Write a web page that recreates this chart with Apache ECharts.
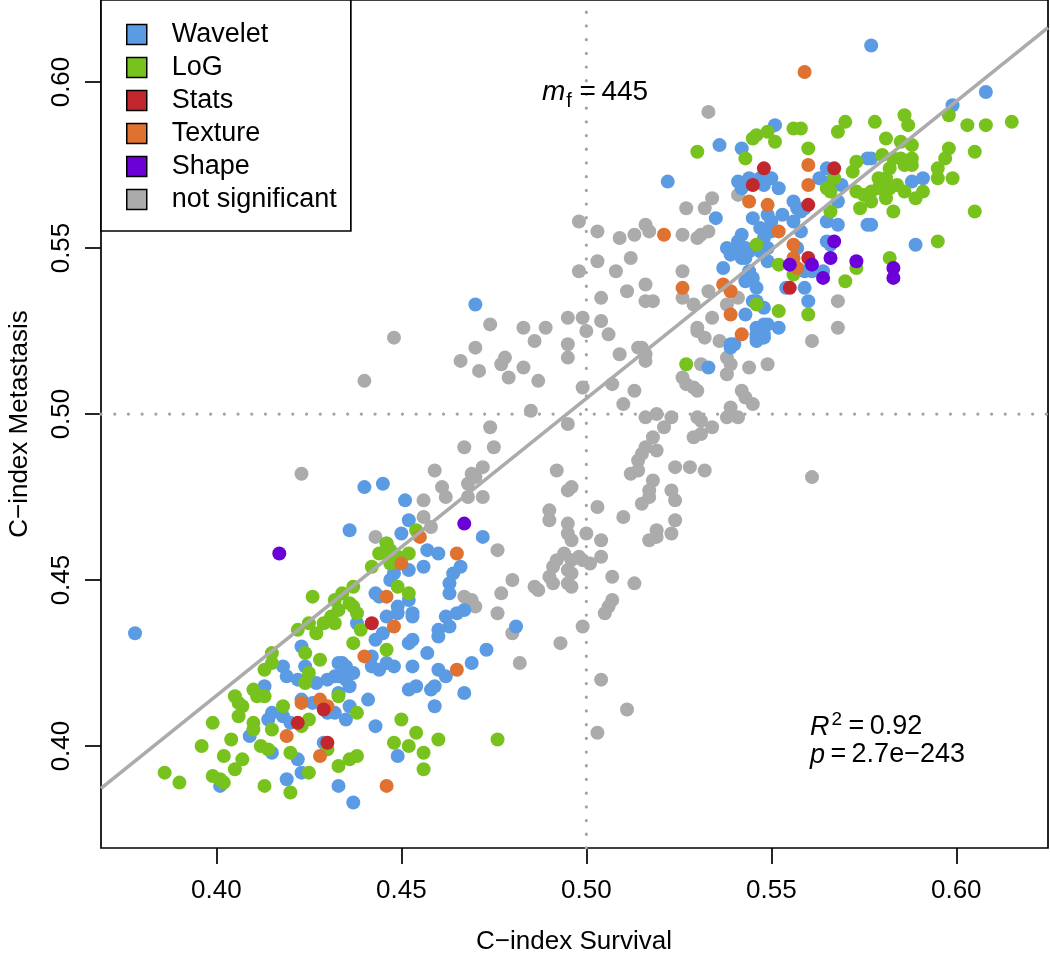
<!DOCTYPE html>
<html><head><meta charset="utf-8">
<script src="https://cdn.jsdelivr.net/npm/echarts@6/dist/echarts.min.js"></script>
<style>html,body{margin:0;padding:0;background:#fff}#c{width:1050px;height:956px}</style>
</head><body><div id="c"></div>
<script>
const FONT = '"Liberation Sans", Arial, Helvetica, sans-serif';
const tickValues = [0.40, 0.45, 0.50, 0.55, 0.60];
const xRange = [0.3688, 0.6248];
const yRange = [0.3693, 0.6247];
const refX = [0.5];
const refY = [0.5];
const fitIntercept = 0.0572;
const fitSlope = 0.895;
const categories = ['Wavelet', 'LoG', 'Stats', 'Texture', 'Shape', 'not significant'];
const catColors = ['#5B9BE3', '#78C21E', '#C1272D', '#DF7230', '#6B00D7', '#ABABAB'];

const waveletPts = [
[0.378,0.434],[0.423,0.430],[0.418,0.424],[0.424,0.424],[0.419,0.421],[0.422,0.420],[0.427,0.419],[0.430,0.420],[0.432,0.421],[0.433,0.425],[0.413,0.418],[0.423,0.414],[0.426,0.413],[0.432,0.410],[0.430,0.410],[0.415,0.410],[0.414,0.408],[0.418,0.409],[0.420,0.407],[0.409,0.403],[0.415,0.398],[0.429,0.401],[0.422,0.396],[0.401,0.388],[0.419,0.390],[0.423,0.392],[0.433,0.388],
[0.440,0.478],[0.445,0.479],[0.451,0.474],[0.452,0.468],[0.436,0.465],[0.450,0.464],[0.472,0.463],[0.446,0.461],[0.457,0.459],[0.460,0.458],[0.456,0.454],[0.466,0.454],[0.464,0.452],[0.463,0.449],[0.463,0.446],[0.452,0.453],[0.448,0.452],[0.447,0.450],[0.443,0.446],[0.444,0.445],[0.452,0.444],[0.467,0.441],[0.465,0.440],[0.462,0.439],[0.463,0.436],[0.449,0.442],[0.449,0.440],[0.453,0.440],[0.453,0.439],[0.438,0.437],[0.446,0.439],[0.445,0.434],[0.481,0.436],[0.443,0.432],[0.452,0.431],[0.453,0.432],[0.460,0.435],[0.460,0.433],[0.457,0.428],[0.473,0.429],[0.442,0.427],[0.442,0.424],[0.444,0.423],[0.446,0.425],[0.448,0.424],[0.434,0.425],[0.435,0.424],[0.453,0.424],[0.469,0.425],[0.460,0.423],[0.462,0.421],
[0.433,0.421],[0.435,0.420],[0.437,0.422],[0.436,0.418],[0.452,0.417],[0.454,0.418],[0.458,0.417],[0.459,0.418],[0.467,0.416],[0.433,0.416],[0.441,0.414],[0.435,0.408],[0.436,0.412],[0.459,0.412],[0.443,0.406],[0.449,0.397],[0.437,0.383],
[0.470,0.533],[0.539,0.521],[0.546,0.524],[0.548,0.523],[0.546,0.522],[0.533,0.514],
[0.536,0.581],[0.522,0.570],[0.542,0.580],[0.551,0.587],[0.576,0.577],[0.541,0.570],[0.542,0.568],[0.544,0.571],[0.547,0.571],[0.548,0.569],[0.550,0.571],[0.552,0.568],[0.565,0.574],[0.563,0.571],[0.566,0.570],[0.569,0.569],[0.556,0.564],[0.557,0.562],[0.558,0.561],[0.559,0.562],[0.568,0.564],[0.535,0.559],[0.545,0.559],[0.549,0.560],[0.553,0.560],[0.565,0.558],[0.568,0.557],[0.576,0.557],[0.556,0.558],[0.558,0.555],[0.547,0.556],[0.550,0.558],[0.550,0.555],[0.548,0.553],[0.542,0.554],[0.541,0.552],[0.543,0.550],[0.538,0.550],[0.539,0.548],[0.541,0.549],[0.542,0.547],[0.543,0.547],[0.544,0.549],[0.547,0.549],[0.549,0.546],[0.549,0.550],[0.537,0.544],[0.557,0.550],[0.565,0.552],[0.566,0.551],[0.559,0.543],[0.561,0.543],[0.564,0.543],[0.544,0.543],[0.545,0.541],[0.543,0.540],[0.546,0.538],[0.554,0.538],[0.559,0.538],[0.545,0.534],[0.546,0.534],[0.543,0.530],[0.548,0.532],[0.560,0.534],[0.546,0.526],[0.548,0.527],[0.549,0.527],[0.546,0.523],[0.548,0.524],[0.552,0.526],[0.540,0.521],[0.539,0.520],
[0.577,0.611],[0.608,0.597],[0.599,0.593],[0.577,0.577],[0.588,0.570],[0.591,0.571],[0.577,0.557],[0.589,0.551]
];
const logPts = [
[0.426,0.445],[0.432,0.444],[0.432,0.437],[0.422,0.435],[0.425,0.437],[0.427,0.434],[0.429,0.437],[0.424,0.428],[0.415,0.428],[0.415,0.425],[0.413,0.423],[0.428,0.426],[0.425,0.422],[0.424,0.419],[0.410,0.417],[0.411,0.415],[0.405,0.415],[0.406,0.413],[0.407,0.412],[0.413,0.415],[0.406,0.409],[0.418,0.412],[0.433,0.415],[0.425,0.408],[0.423,0.406],[0.410,0.407],[0.410,0.405],[0.399,0.407],[0.415,0.405],[0.404,0.402],[0.396,0.400],[0.412,0.400],[0.414,0.399],[0.430,0.399],[0.420,0.398],[0.402,0.397],[0.407,0.396],[0.405,0.393],[0.433,0.394],[0.386,0.392],[0.390,0.389],[0.399,0.391],[0.401,0.390],[0.402,0.389],[0.413,0.388],[0.425,0.392],[0.420,0.386],
[0.454,0.465],[0.446,0.461],[0.444,0.458],[0.446,0.458],[0.447,0.459],[0.447,0.455],[0.449,0.457],[0.452,0.458],[0.442,0.454],[0.449,0.448],[0.452,0.446],[0.437,0.448],[0.434,0.446],[0.436,0.443],[0.437,0.442],[0.438,0.440],[0.433,0.441],[0.431,0.439],[0.439,0.435],[0.437,0.431],[0.446,0.429],[0.438,0.410],[0.450,0.408],[0.454,0.404],[0.448,0.401],[0.452,0.400],[0.460,0.402],[0.476,0.402],[0.456,0.398],[0.456,0.393],[0.436,0.396],[0.438,0.397],
[0.527,0.515],
[0.530,0.579],[0.543,0.577],[0.545,0.583],[0.546,0.584],[0.549,0.585],[0.551,0.582],[0.556,0.586],[0.558,0.586],[0.560,0.580],[0.568,0.585],[0.570,0.588],[0.573,0.576],[0.567,0.571],[0.565,0.568],[0.566,0.567],[0.573,0.567],[0.575,0.566],[0.574,0.562],[0.566,0.561],[0.546,0.551],[0.552,0.545],[0.573,0.544],[0.556,0.542],[0.570,0.540],[0.546,0.533],[0.552,0.531],[0.560,0.530],
[0.598,0.590],[0.578,0.588],[0.586,0.590],[0.587,0.587],[0.603,0.587],[0.608,0.587],[0.615,0.588],[0.581,0.583],[0.585,0.582],[0.588,0.581],[0.598,0.580],[0.597,0.577],[0.595,0.574],[0.605,0.579],[0.572,0.573],[0.580,0.578],[0.583,0.577],[0.585,0.577],[0.588,0.577],[0.588,0.575],[0.586,0.575],[0.582,0.574],[0.579,0.571],[0.581,0.571],[0.579,0.568],[0.580,0.568],[0.582,0.568],[0.584,0.569],[0.577,0.567],[0.577,0.564],[0.581,0.565],[0.583,0.561],[0.586,0.567],[0.595,0.571],[0.599,0.571],[0.591,0.567],[0.589,0.565],[0.605,0.561],[0.595,0.552],[0.582,0.547]
];
const statsPts = [
[0.429,0.411],[0.422,0.407],[0.430,0.401],[0.442,0.437],[0.548,0.574],[0.545,0.569],[0.567,0.574],[0.560,0.563],[0.560,0.547],[0.555,0.538]
];
const texturePts = [
[0.423,0.413],[0.428,0.414],[0.430,0.412],[0.419,0.403],[0.428,0.397],[0.455,0.463],[0.465,0.458],[0.450,0.455],[0.446,0.445],[0.448,0.436],[0.440,0.427],[0.465,0.423],[0.446,0.388],[0.542,0.524],[0.560,0.575],[0.560,0.569],[0.544,0.564],[0.549,0.563],[0.521,0.554],[0.552,0.555],[0.556,0.551],[0.556,0.547],[0.557,0.544],[0.526,0.538],[0.537,0.539],[0.539,0.537],[0.539,0.530],[0.559,0.603]
];
const shapePts = [
[0.417,0.458],[0.467,0.467],[0.567,0.552],[0.566,0.547],[0.555,0.545],[0.561,0.545],[0.573,0.546],[0.564,0.541],[0.583,0.544],[0.583,0.541]
];
const nsPts = [
[0.423,0.482],
[0.459,0.483],[0.469,0.482],[0.470,0.481],[0.468,0.479],[0.492,0.483],[0.495,0.477],[0.461,0.478],[0.462,0.475],[0.468,0.475],[0.472,0.475],[0.456,0.474],[0.456,0.469],[0.458,0.466],[0.490,0.471],[0.490,0.468],[0.495,0.467],[0.495,0.464],[0.443,0.463],[0.476,0.459],[0.494,0.458],[0.492,0.456],[0.491,0.454],[0.490,0.451],[0.491,0.449],[0.495,0.453],[0.495,0.449],[0.480,0.450],[0.486,0.448],[0.487,0.447],[0.477,0.446],[0.467,0.445],[0.469,0.444],[0.470,0.442],[0.476,0.440],[0.480,0.434],[0.493,0.431],[0.482,0.425],
[0.474,0.527],[0.448,0.523],[0.483,0.526],[0.489,0.526],[0.495,0.529],[0.486,0.522],[0.495,0.521],[0.495,0.517],[0.470,0.520],[0.466,0.516],[0.471,0.513],[0.478,0.517],[0.477,0.515],[0.479,0.511],[0.483,0.514],[0.487,0.510],[0.440,0.510],[0.485,0.501],[0.474,0.496],[0.467,0.490],[0.475,0.490],[0.495,0.497],[0.472,0.484],
[0.500,0.525],[0.506,0.524],[0.509,0.518],[0.514,0.520],[0.516,0.518],[0.516,0.516],[0.499,0.508],[0.507,0.509],[0.513,0.507],[0.510,0.503],[0.516,0.499],[0.519,0.500],[0.523,0.499],[0.521,0.496],[0.518,0.493],[0.516,0.490],[0.519,0.489],[0.515,0.488],[0.514,0.486],[0.512,0.482],[0.514,0.483],[0.524,0.484],[0.528,0.484],[0.532,0.483],[0.496,0.478],[0.518,0.480],[0.517,0.477],[0.517,0.475],[0.515,0.473],[0.523,0.477],[0.524,0.474],[0.503,0.472],[0.510,0.469],[0.524,0.468],[0.496,0.462],[0.500,0.464],[0.504,0.462],[0.519,0.465],[0.519,0.463],[0.517,0.462],[0.523,0.464],[0.496,0.456],[0.498,0.457],[0.501,0.455],[0.499,0.456],[0.504,0.457],[0.496,0.452],[0.496,0.448],[0.507,0.451],[0.513,0.449],[0.507,0.444],[0.506,0.442],[0.505,0.440],[0.499,0.436],[0.504,0.420],[0.511,0.411],[0.503,0.404],
[0.530,0.525],[0.532,0.523],[0.536,0.522],[0.531,0.515],[0.538,0.517],[0.539,0.515],[0.538,0.512],[0.526,0.511],[0.527,0.509],[0.529,0.508],[0.530,0.507],[0.544,0.514],[0.549,0.515],[0.542,0.507],[0.543,0.505],[0.545,0.503],[0.530,0.499],[0.531,0.498],[0.534,0.496],[0.531,0.494],[0.529,0.493],[0.538,0.499],[0.539,0.502],[0.541,0.499],
[0.533,0.591],[0.541,0.566],[0.534,0.565],[0.532,0.562],[0.527,0.562],[0.516,0.557],[0.517,0.555],[0.526,0.554],[0.530,0.553],[0.531,0.554],[0.533,0.555],[0.526,0.543],[0.516,0.539],[0.533,0.537],[0.526,0.535],[0.529,0.533],[0.518,0.534],[0.516,0.534],[0.541,0.535],[0.538,0.533],[0.568,0.534],[0.534,0.529],[0.530,0.526],[0.561,0.522],[0.515,0.520],
[0.498,0.558],[0.503,0.555],[0.509,0.553],[0.513,0.554],[0.498,0.543],[0.503,0.546],[0.508,0.543],[0.512,0.547],[0.504,0.535],[0.511,0.537],[0.499,0.529],[0.504,0.528],[0.561,0.481],[0.568,0.526]
];

const ptsByCat = [waveletPts, logPts, statsPts, texturePts, shapePts, nsPts];
const drawOrder = [5, 0, 1, 3, 2, 4];

const series = [];
refX.forEach(v => series.push({
  type: 'line', name: '_refx', data: [[v, yRange[0]], [v, yRange[1]]], symbol: 'none', silent: true, z: 1,
  lineStyle: { color: '#A4A4A4', width: 3.2, type: [0.1, 13.6], cap: 'round' }
}));
refY.forEach(v => series.push({
  type: 'line', name: '_refy', data: [[xRange[0], v], [xRange[1], v]], symbol: 'none', silent: true, z: 1,
  lineStyle: { color: '#A4A4A4', width: 3.2, type: [0.1, 13.6], cap: 'round' }
}));
drawOrder.forEach(i => series.push({
  type: 'scatter', name: categories[i], data: ptsByCat[i], symbol: 'circle', symbolSize: 14, z: 2,
  itemStyle: { color: catColors[i], opacity: 1 }, silent: true
}));
series.push({
  type: 'line', name: '_fit', symbol: 'none', silent: true, z: 5,
  data: xRange.map(x => [x, fitIntercept + fitSlope * x]),
  lineStyle: { color: '#ABABAB', width: 3.6 }
});

const axisCommon = {
  type: 'value',
  splitLine: { show: false },
  axisLine: { show: false },
  axisTick: { show: true, inside: false, length: 16, lineStyle: { color: '#000', width: 1.7 }, customValues: tickValues },
};

const chart = echarts.init(document.getElementById('c'), null, { renderer: 'canvas' });
chart.setOption({
  animation: false,
  backgroundColor: '#fff',
  grid: { left: 101, top: 0, width: 947, height: 848, show: true, borderColor: '#000', borderWidth: 1.7, backgroundColor: 'transparent' },
  xAxis: Object.assign({}, axisCommon, {
    min: xRange[0], max: xRange[1],
    axisLabel: { customValues: tickValues, formatter: v => v.toFixed(2), fontSize: 26, color: '#000', fontFamily: FONT, margin: 30 }
  }),
  yAxis: Object.assign({}, axisCommon, {
    min: yRange[0], max: yRange[1],
    axisLabel: { customValues: tickValues, formatter: v => v.toFixed(2), fontSize: 26, color: '#000', fontFamily: FONT, margin: 26, rotate: 90 }
  }),
  legend: {
    data: categories, orient: 'vertical', left: 101, top: 0,
    padding: [21, 14, 18, 25], itemWidth: 20, itemHeight: 20, itemGap: 6, icon: 'rect',
    itemStyle: { borderColor: '#000', borderWidth: 1.5 },
    textStyle: { fontSize: 27, fontFamily: FONT, color: '#000', padding: [0, 0, 0, 20], lineHeight: 20 },
    borderColor: '#000', borderWidth: 1.7, backgroundColor: '#fff', borderRadius: 0, z: 10,
    selectedMode: false
  },
  graphic: [
    { type: 'text', x: 574, y: 942, silent: true,
      style: { text: 'C\u2212index Survival', font: '26px ' + FONT, fill: '#000', textAlign: 'center', textVerticalAlign: 'middle' } },
    { type: 'text', x: 20, y: 424, rotation: Math.PI / 2, silent: true,
      style: { text: 'C\u2212index Metastasis', font: '26px ' + FONT, fill: '#000', textAlign: 'center', textVerticalAlign: 'middle' } },
    { type: 'text', x: 542, y: 92, silent: true, z: 20,
      style: { text: '{a|m}{b|f}{c|\u2009=\u2009445}', fill: '#000', textAlign: 'left', textVerticalAlign: 'middle',
        rich: { a: { fontSize: 28, fontStyle: 'italic', fontFamily: FONT, fill: '#000' },
                b: { fontSize: 20, fontFamily: FONT, padding: [18, 2, 0, 1], fill: '#000' },
                c: { fontSize: 28, fontFamily: FONT, fill: '#000' } } } },
    { type: 'text', x: 810, y: 727, silent: true, z: 20,
      style: { text: '{a|R}{b|2}{c|\u2009=\u20090.92}', fill: '#000', textAlign: 'left', textVerticalAlign: 'middle',
        rich: { a: { fontSize: 27, fontStyle: 'italic', fontFamily: FONT, fill: '#000' },
                b: { fontSize: 19, fontFamily: FONT, padding: [0, 1, 14, 2], fill: '#000' },
                c: { fontSize: 27, fontFamily: FONT, fill: '#000' } } } },
    { type: 'text', x: 810, y: 755, silent: true, z: 20,
      style: { text: '{a|p}{c|\u2009=\u20092.7e\u2212243}', fill: '#000', textAlign: 'left', textVerticalAlign: 'middle',
        rich: { a: { fontSize: 27, fontStyle: 'italic', fontFamily: FONT, fill: '#000' },
                c: { fontSize: 27, fontFamily: FONT, fill: '#000' } } } }
  ],
  series: series
});
</script>
</body></html>
